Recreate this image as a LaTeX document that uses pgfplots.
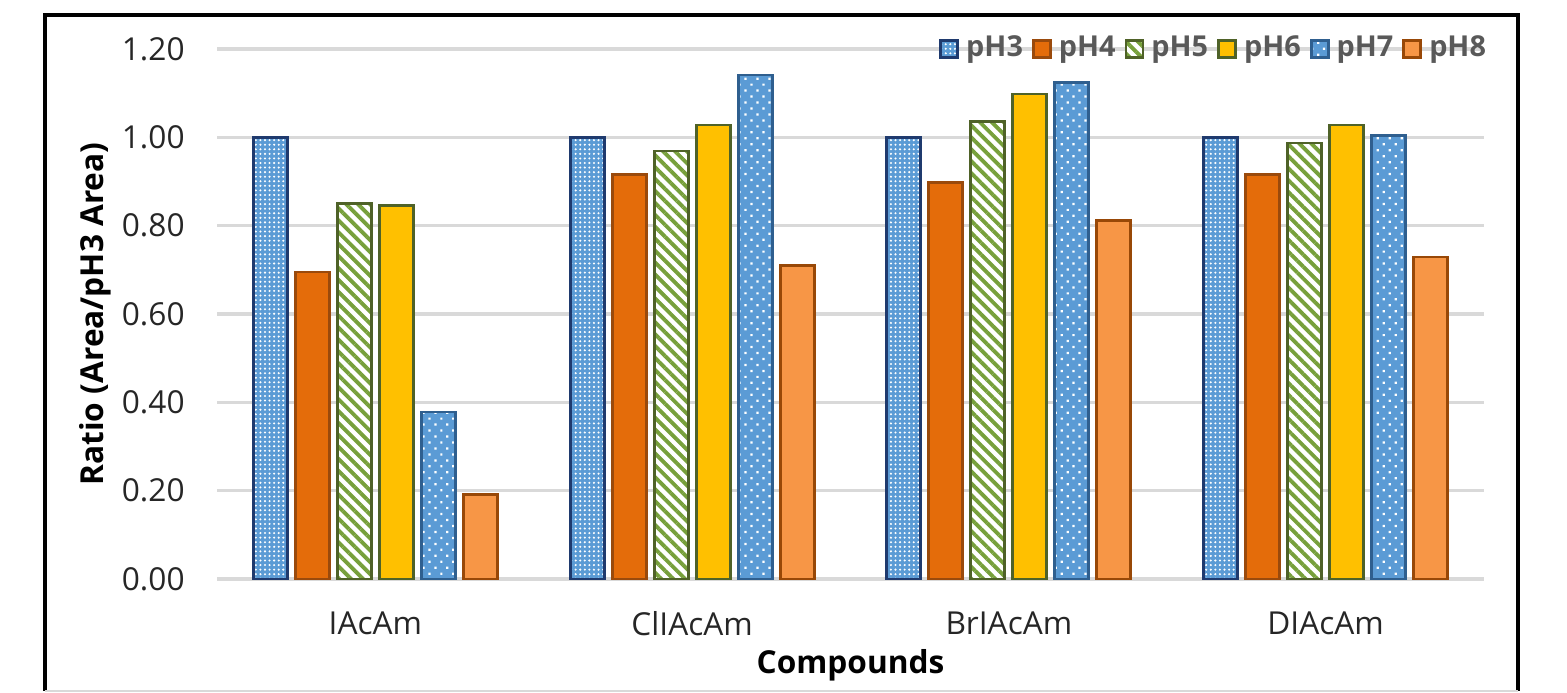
\documentclass[border=0pt]{standalone}
\usepackage{pgfplots}
\pgfplotsset{compat=1.18}
\usepackage{pgfplotstable}
\usetikzlibrary{patterns.meta}
\usepackage{fontspec}
\setmainfont{Open Sans}
\definecolor{blueF}{HTML}{5B9BD5}
\definecolor{navyB}{HTML}{1F3A6E}
\definecolor{orgF}{HTML}{E46C0A}
\definecolor{orgB}{HTML}{9A4A0C}
\definecolor{grnL}{HTML}{77A03B}
\definecolor{grnB}{HTML}{4F6228}
\definecolor{yelF}{HTML}{FFC000}
\definecolor{blue7B}{HTML}{2F5F8F}
\definecolor{lorF}{HTML}{F79646}
\definecolor{lorB}{HTML}{984807}
\definecolor{gridc}{HTML}{D9D9D9}
\definecolor{legtxt}{HTML}{595959}

\pgfplotstableread{
x  p3    p4     p5     p6     p7     p8
0  1.000 0.695  0.851  0.845  0.378  0.192
1  1.000 0.915  0.969  1.028  1.141  0.709
2  1.000 0.897  1.035  1.098  1.125  0.811
3  1.000 0.915  0.987  1.028  1.005  0.729
}\datatable

\begin{document}
\begin{tikzpicture}
\path[use as bounding box] (0,0) rectangle (15.67,6.93);
\draw[line width=1.1pt] (0.45,0.02) -- (0.45,6.78) -- (15.18,6.78) -- (15.18,0.02);
\draw[gridc, line width=0.6pt] (0.45,0.02) -- (15.18,0.02);
\begin{axis}[
  at={(2.17cm,1.14cm)}, anchor=south west,
  width=12.67cm, height=5.30cm, scale only axis,
  ybar=0.08cm, bar width=0.34cm,
  xmin=-0.5, xmax=3.5,
  ymin=0, ymax=1.2,
  xtick=data,
  xticklabels={IAcAm, ClIAcAm, BrIAcAm, DIAcAm},
  ytick={0,0.2,...,1.2},
  yticklabel style={/pgf/number format/fixed, /pgf/number format/fixed zerofill, /pgf/number format/precision=2, xshift=-0.2cm},
  /pgf/number format/assume math mode=true,
  major tick length=0pt,
  tick style={draw=none},
  ymajorgrids,
  grid style={gridc, line width=1pt},
  axis line style={draw=none},
  ticklabel style={font=\fontsize{9}{11}\selectfont, text=black!85},
  xticklabel style={yshift=-0.2cm},
  xlabel={\textbf{Compounds}},
  ylabel={\textbf{Ratio (Area/pH3 Area)}},
  label style={font=\fontsize{9}{11}\selectfont},
  xlabel style={at={(axis description cs:0.5,-0.163)}, anchor=center},
  ylabel style={at={(axis description cs:-0.0963,0.5)}, anchor=center},
  legend style={at={(1.016,1)}, anchor=east, draw=none, fill=none,
    font=\fontsize{8.2}{10}\selectfont\bfseries, text=legtxt,
    /tikz/every even column/.append style={column sep=0.02cm}},
  legend columns=6,
  legend cell align=left,
  legend image code/.code={\draw[#1, line width=0.8pt] (0cm,-0.085cm) rectangle (0.17cm,0.085cm);},
  clip=false,
]
\addplot[fill=blueF, draw=navyB, line width=0.8pt,
  postaction={pattern={Dots[distance=1.3pt, radius=0.33pt]}, pattern color=white}]
  table[x=x, y=p3] {\datatable};
\addplot[fill=orgF, draw=orgB, line width=0.8pt] table[x=x, y=p4] {\datatable};
\addplot[fill=white, draw=grnB, line width=0.8pt,
  postaction={pattern={Lines[angle=-45, distance=2.4pt, line width=1.1pt]}, pattern color=grnL}]
  table[x=x, y=p5] {\datatable};
\addplot[fill=yelF, draw=grnB, line width=0.8pt] table[x=x, y=p6] {\datatable};
\addplot[fill=blueF, draw=blue7B, line width=0.8pt,
  postaction={pattern={Dots[distance=2.4pt, radius=0.45pt, angle=45]}, pattern color=white}]
  table[x=x, y=p7] {\datatable};
\addplot[fill=lorF, draw=lorB, line width=0.8pt] table[x=x, y=p8] {\datatable};
\legend{pH3, pH4, pH5, pH6, pH7, pH8}
\end{axis}
\end{tikzpicture}
\end{document}
